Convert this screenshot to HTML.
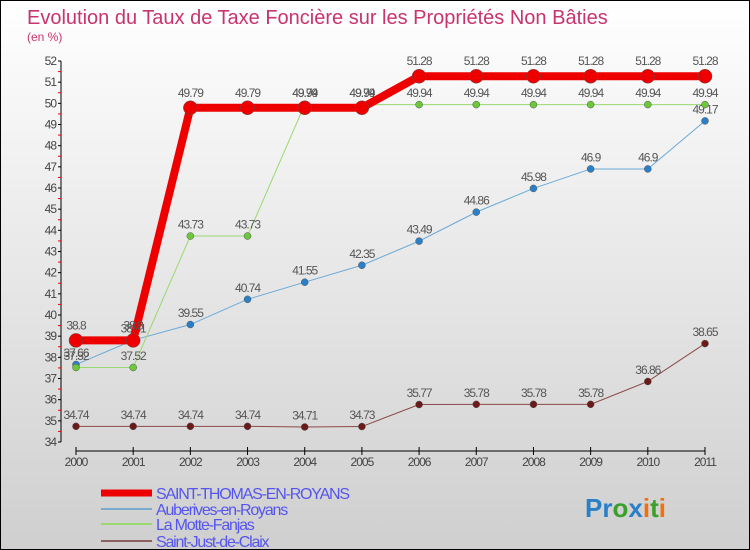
<!DOCTYPE html>
<html><head><meta charset="utf-8"><style>
body{margin:0;}
#c{width:750px;height:550px;position:relative;box-sizing:border-box;border:1px solid #000;background:linear-gradient(#ffffff,#cfcfcf);font-family:"Liberation Sans",sans-serif;overflow:hidden}
svg{position:absolute;left:0;top:0}
</style></head><body>
<div id="c">
<svg id="s" width="750" height="550">
<text x="26" y="23" font-size="20" fill="#c8346e">Evolution du Taux de Taxe Foncière sur les Propriétés Non Bâties</text>
<text x="26" y="40" font-size="12" fill="#c8346e">(en %)</text>
<text x="584" y="516" font-size="26" font-weight="bold"><tspan fill="#2a7fc9">Pr</tspan><tspan fill="#3aa02a">o</tspan><tspan fill="#2a7fc9">x</tspan><tspan fill="#f07010">i</tspan><tspan fill="#3aa02a">t</tspan><tspan fill="#f07010">i</tspan></text>
</svg>
</div>
<script>
const years=["2000","2001","2002","2003","2004","2005","2006","2007","2008","2009","2010","2011"];
const yTicks=[34,35,36,37,38,39,40,41,42,43,44,45,46,47,48,49,50,51,52];
const stThomas=[38.8,38.8,49.79,49.79,49.79,49.79,51.28,51.28,51.28,51.28,51.28,51.28];
const auberives=[37.66,38.81,39.55,40.74,41.55,42.35,43.49,44.86,45.98,46.9,46.9,49.17];
const motte=[37.52,37.52,43.73,43.73,49.94,49.94,49.94,49.94,49.94,49.94,49.94,49.94];
const saintJust=[34.74,34.74,34.74,34.74,34.71,34.73,35.77,35.78,35.78,35.78,36.86,38.65];
const seriesNames=["SAINT-THOMAS-EN-ROYANS","Auberives-en-Royans","La Motte-Fanjas","Saint-Just-de-Claix"];
const s=document.getElementById('s');const NS='http://www.w3.org/2000/svg';
function X(i){return 75+i*(704-75)/11;}
function Y(v){return 441-(v-34)*(381/18);}
function el(t,a,p){const e=document.createElementNS(NS,t);for(const k in a)e.setAttribute(k,a[k]);(p||s).appendChild(e);return e;}
const ax=el('line',{x1:60,y1:Y(52),x2:60,y2:441,stroke:'#000'});


yTicks.forEach(v=>{
 el('line',{x1:57,x2:60,y1:Y(v),y2:Y(v),stroke:'#000'});
 if(v<52){el('line',{x1:57,x2:60,y1:Y(v+0.5),y2:Y(v+0.5),stroke:'#e00'});}
 const t=el('text',{x:55,y:Y(v)+4,'font-size':12,'text-anchor':'end',fill:'#444','letter-spacing':'-1'});t.textContent=v;
 
 
});
const xa=el('line',{x1:X(0),x2:X(11),y1:450,y2:450,stroke:'#000'});


years.forEach((y,i)=>{
 el('line',{x1:X(i),x2:X(i),y1:446,y2:454,stroke:'#000'});
 const t=el('text',{x:X(i),y:465,'font-size':12,'text-anchor':'middle',fill:'#444','letter-spacing':'-1'});t.textContent=y;
 
 
});
function series(data,color,w,r,dot,name){
 const g=el('g',{});
 
 
 el('polyline',{points:data.map((v,i)=>X(i)+','+Y(v)).join(' '),fill:'none',stroke:color,'stroke-width':w},g);
 data.forEach((v,i)=>{
  const c=el('circle',{cx:X(i),cy:Y(v),r:r,fill:dot,stroke:'#555','stroke-width':0.5},g);
  
  
  const t=el('text',{x:X(i),y:Y(v)-r-4,'font-size':12,'text-anchor':'middle',fill:'#555','letter-spacing':'-1'},g);
  t.textContent=String(v);
  
  
 });
}
series(saintJust,'#8b4a4a',1,3.5,'#6b1a1a','series-saint-just');
series(auberives,'#6aaad8',1,3.5,'#2a7fc9','series-auberives');
series(motte,'#9ad870',1,3.5,'#6ac83a','series-motte-fanjas');
series(stThomas,'#ee0000',8,7,'#ee0000','series-saint-thomas');
const cols=['#ee0000','#7aaacc','#9ad870','#8b6060'];const ws=[7,2,2,2];
seriesNames.forEach((n,i)=>{
 const y=[492,508,523,540][i];
 const l=el('line',{x1:100,x2:151,y1:y,y2:y,stroke:cols[i],'stroke-width':ws[i]});
 
 
 const t=el('text',{x:155,y:y+6,'font-size':16,fill:'#5555ee','letter-spacing':'-1.2'});t.textContent=n;
 
 
});
</script>
</body></html>
